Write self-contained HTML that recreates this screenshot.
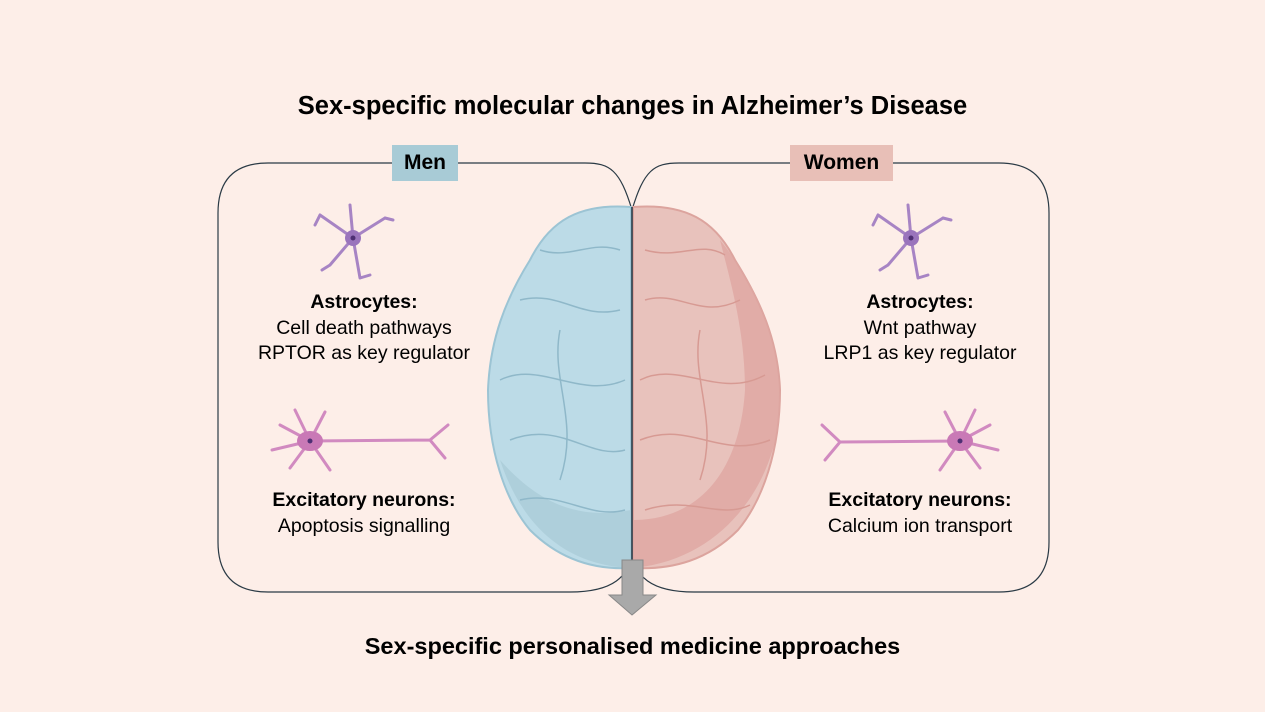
<!DOCTYPE html>
<html><head><style>
body{margin:0;width:1265px;height:712px;background:#fdeee8;font-family:"Liberation Sans",Arial,sans-serif;position:relative;overflow:hidden}
.t{position:absolute;text-align:center;color:#000}
</style></head><body>
<svg width="1265" height="712" style="position:absolute;left:0;top:0">
<path d="M632,210 C620,170 610,163 585,163 L268,163 Q218,163 218,213 L218,542 Q218,592 268,592 L570,592 C615,592 628,575 632,555" fill="none" stroke="#2a3a45" stroke-width="1.2"/>
<path d="M632,210 C644,170 654,163 679,163 L999,163 Q1049,163 1049,213 L1049,542 Q1049,592 999,592 L694,592 C649,592 636,575 632,555" fill="none" stroke="#2a3a45" stroke-width="1.2"/>
<path d="M631,207 C580,203 550,220 530,260 C505,300 490,340 488,390 C488,450 505,500 530,530 C560,560 595,570 631,568 Z" fill="#bcdbe7" stroke="#9cc4d4" stroke-width="2"/>
<path d="M500,460 C520,520 560,565 631,568 L631,510 C580,520 540,505 500,460Z" fill="#a8cad6" opacity=".7"/>
<path d="M633,207 C685,203 715,220 735,260 C760,300 778,340 780,390 C780,450 763,500 738,530 C708,560 673,570 633,568 Z" fill="#e8c2bc" stroke="#dca49e" stroke-width="2"/>
<path d="M720,240 C760,290 785,350 779,420 C770,490 720,560 633,568 L633,520 C700,520 740,470 745,390 C745,330 730,280 720,240Z" fill="#dea6a1" opacity=".8"/>
<g fill="none" stroke="#8fb8c9" stroke-width="1.5">
<path d="M520,300 C560,290 580,320 620,310"/><path d="M500,380 C540,360 580,400 625,380"/><path d="M510,440 C560,420 590,460 625,450"/><path d="M540,250 C570,260 590,240 620,250"/><path d="M560,330 C550,380 580,420 560,480"/><path d="M520,500 C560,490 590,520 625,510"/>
</g>
<g fill="none" stroke="#d79a93" stroke-width="1.5">
<path d="M645,300 C680,290 700,320 740,300"/><path d="M640,380 C680,360 720,400 765,375"/><path d="M640,440 C690,420 720,460 770,440"/><path d="M645,250 C680,260 700,240 725,255"/><path d="M700,330 C690,380 720,420 700,480"/><path d="M645,510 C690,495 720,520 750,505"/>
</g>
<line x1="632" y1="207" x2="632" y2="568" stroke="#1e3440" stroke-width="1.5"/>
<path d="M622,560 L643,560 L643,595 L656,595 L632,615 L609,595 L622,595Z" fill="#a9a9a9" stroke="#888" stroke-width="1"/>
<g stroke="#a784c4" stroke-width="3" fill="none" stroke-linecap="round">
<path d="M353,238 L320,215 M353,238 L350,205 M353,238 L385,218 M353,238 L330,265 M353,238 L360,278 M320,215 L315,225 M385,218 L393,220 M330,265 L322,270 M360,278 L370,275"/>
<path d="M911,238 L878,215 M911,238 L908,205 M911,238 L943,218 M911,238 L888,265 M911,238 L918,278 M878,215 L873,225 M943,218 L951,220 M888,265 L880,270 M918,278 L928,275"/>
</g>
<circle cx="353" cy="238" r="8" fill="#9a74bc"/><circle cx="353" cy="238" r="2.5" fill="#4e2f73"/>
<circle cx="911" cy="238" r="8" fill="#9a74bc"/><circle cx="911" cy="238" r="2.5" fill="#4e2f73"/>
<g stroke="#d18ac0" stroke-width="3" fill="none" stroke-linecap="round">
<path d="M310,441 L430,440 L448,425 M430,440 L445,458 M310,441 L280,425 M310,441 L272,450 M310,441 L295,410 M310,441 L325,412 M310,441 L290,468 M310,441 L330,470"/>
<path d="M960,441 L840,442 L822,425 M840,442 L825,460 M960,441 L990,425 M960,441 L998,450 M960,441 L975,410 M960,441 L945,412 M960,441 L980,468 M960,441 L940,470"/>
</g>
<ellipse cx="310" cy="441" rx="13" ry="10" fill="#c979b6"/><circle cx="310" cy="441" r="2.5" fill="#4e2f73"/>
<ellipse cx="960" cy="441" rx="13" ry="10" fill="#c979b6"/><circle cx="960" cy="441" r="2.5" fill="#4e2f73"/>
</svg>
<div class="t" style="left:0;width:1265px;top:92px;font-size:25.5px;font-weight:bold">Sex-specific molecular changes in Alzheimer’s Disease</div>
<div class="t" style="left:392px;width:66px;top:145px;height:36px;line-height:36px;background:#a8cbd6;font-size:21px;font-weight:bold">Men</div>
<div class="t" style="left:790px;width:103px;top:145px;height:36px;line-height:36px;background:#e8bfb7;font-size:21px;font-weight:bold">Women</div>
<div class="t" style="left:214px;width:300px;top:290px;font-size:19.5px;line-height:25.5px"><b>Astrocytes:</b><br>Cell death pathways<br>RPTOR as key regulator</div>
<div class="t" style="left:214px;width:300px;top:488px;font-size:19.5px;line-height:25.5px"><b>Excitatory neurons:</b><br>Apoptosis signalling</div>
<div class="t" style="left:770px;width:300px;top:290px;font-size:19.5px;line-height:25.5px"><b>Astrocytes:</b><br>Wnt pathway<br>LRP1 as key regulator</div>
<div class="t" style="left:770px;width:300px;top:488px;font-size:19.5px;line-height:25.5px"><b>Excitatory neurons:</b><br>Calcium ion transport</div>
<div class="t" style="left:0;width:1265px;top:633px;font-size:23.5px;font-weight:bold">Sex-specific personalised medicine approaches</div>
</body></html>
